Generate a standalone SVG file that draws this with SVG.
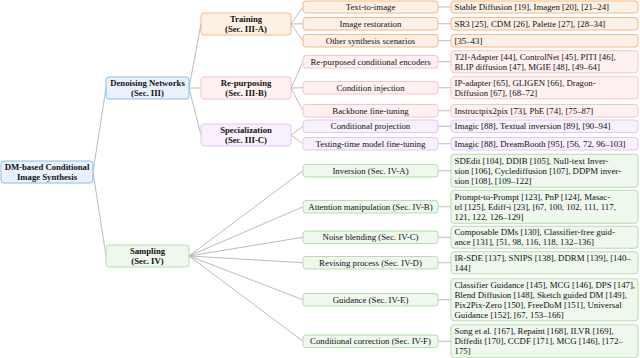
<svg xmlns="http://www.w3.org/2000/svg" width="640" height="358" viewBox="0 0 640 358">
<style>
text{font-family:"Liberation Serif","Times New Roman",serif;font-size:8.8px;fill:#111}
.b{font-weight:bold;font-size:8.7px}
.c{text-anchor:middle}
rect{stroke-width:1}
.blue{fill:#e9f2fc;stroke:#86bdf0}
.org{fill:#fdf0e4;stroke:#f3b98a}
.pnk{fill:#fff1f2;stroke:#f8c4ca}
.prp{fill:#f8f0fd;stroke:#e2c6f4}
.grn{fill:#eef8ec;stroke:#b3e0ad}
#connectors line{stroke:#a9a9a9;stroke-width:0.8}
</style>
<g id="connectors">
<line x1="93" y1="172" x2="106" y2="88"/>
<line x1="93" y1="172" x2="106" y2="256"/>
<line x1="189" y1="88" x2="201" y2="24"/>
<line x1="189" y1="88" x2="201" y2="88"/>
<line x1="189" y1="88" x2="201" y2="135"/>
<line x1="291" y1="24" x2="303" y2="7"/>
<line x1="291" y1="24" x2="303" y2="23.75"/>
<line x1="291" y1="24" x2="303" y2="40.75"/>
<line x1="291" y1="88" x2="303" y2="61.75"/>
<line x1="291" y1="88" x2="303" y2="87.75"/>
<line x1="291" y1="88" x2="303" y2="110.75"/>
<line x1="291" y1="135" x2="303" y2="126.25"/>
<line x1="291" y1="135" x2="303" y2="143.75"/>
<line x1="189" y1="256" x2="303" y2="170.75"/>
<line x1="189" y1="256" x2="303" y2="206.75"/>
<line x1="189" y1="256" x2="303" y2="237.25"/>
<line x1="189" y1="256" x2="303" y2="262.75"/>
<line x1="189" y1="256" x2="303" y2="299.75"/>
<line x1="189" y1="256" x2="303" y2="341.25"/>
<line x1="438" y1="7" x2="451" y2="7"/>
<line x1="438" y1="23.75" x2="451" y2="23.75"/>
<line x1="438" y1="40.75" x2="451" y2="40.75"/>
<line x1="438" y1="61.75" x2="451" y2="61.75"/>
<line x1="438" y1="87.75" x2="451" y2="87.75"/>
<line x1="438" y1="110.75" x2="451" y2="110.75"/>
<line x1="438" y1="126.25" x2="451" y2="126.25"/>
<line x1="438" y1="143.75" x2="451" y2="143.75"/>
<line x1="438" y1="170.75" x2="451" y2="170.75"/>
<line x1="438" y1="206.75" x2="451" y2="206.75"/>
<line x1="438" y1="237.25" x2="451" y2="237.25"/>
<line x1="438" y1="262.75" x2="451" y2="262.75"/>
<line x1="438" y1="299.75" x2="451" y2="299.75"/>
<line x1="438" y1="341.25" x2="451" y2="341.25"/>
</g>

<g id="root"><rect class="blue" x="1" y="161" width="92" height="22" rx="3"/>
<text class="b c" x="47" y="169.5">DM-based Conditional</text><text class="b c" x="47" y="179.5">Image Synthesis</text></g>

<g id="denoising"><rect class="blue" x="106" y="77" width="83" height="22" rx="3"/>
<text class="b c" x="147.5" y="85.5">Denoising Networks</text><text class="b c" x="147.5" y="95.5">(Sec. III)</text></g>
<g id="sampling"><rect class="grn" x="106" y="245" width="83" height="22" rx="3"/>
<text class="b c" x="147.5" y="253.5">Sampling</text><text class="b c" x="147.5" y="263.5">(Sec. IV)</text></g>

<g id="training"><rect class="org" x="201" y="13" width="90" height="22" rx="3"/>
<text class="b c" x="246" y="21.5">Training</text><text class="b c" x="246" y="31.5">(Sec. III-A)</text></g>
<g id="repurposing"><rect class="pnk" x="201" y="77" width="90" height="22" rx="3"/>
<text class="b c" x="246" y="85.5">Re-purposing</text><text class="b c" x="246" y="95.5">(Sec. III-B)</text></g>
<g id="specialization"><rect class="prp" x="201" y="124" width="90" height="22" rx="3"/>
<text class="b c" x="246" y="132.5">Specialization</text><text class="b c" x="246" y="142.5">(Sec. III-C)</text></g>

<g id="t2i"><rect class="org" x="303" y="1" width="135" height="12" rx="3"/><text class="c" x="370.5" y="10">Text-to-image</text></g>
<g id="restoration"><rect class="org" x="303" y="17.5" width="135" height="12.5" rx="3"/><text class="c" x="370.5" y="26.75">Image restoration</text></g>
<g id="other"><rect class="org" x="303" y="34.5" width="135" height="12.5" rx="3"/><text class="c" x="370.5" y="43.75">Other synthesis scenarios</text></g>
<g id="encoders"><rect class="pnk" x="303" y="55.5" width="135" height="12.5" rx="3"/><text class="c" x="370.5" y="64.75">Re-purposed conditional encoders</text></g>
<g id="injection"><rect class="pnk" x="303" y="81.5" width="135" height="12.5" rx="3"/><text class="c" x="370.5" y="90.75">Condition injection</text></g>
<g id="backbone"><rect class="pnk" x="303" y="104.5" width="135" height="12.5" rx="3"/><text class="c" x="370.5" y="113.75">Backbone fine-tuning</text></g>
<g id="projection"><rect class="prp" x="303" y="120" width="135" height="12.5" rx="3"/><text class="c" x="370.5" y="129.25">Conditional projection</text></g>
<g id="testing"><rect class="prp" x="303" y="137.5" width="135" height="12.5" rx="3"/><text class="c" x="370.5" y="146.75">Testing-time model fine-tuning</text></g>
<g id="inversion"><rect class="grn" x="303" y="164.5" width="135" height="12.5" rx="3"/><text class="c" x="370.5" y="173.75">Inversion (Sec. IV-A)</text></g>
<g id="attention"><rect class="grn" x="303" y="200.5" width="135" height="12.5" rx="3"/><text class="c" x="370.5" y="209.75">Attention manipulation (Sec. IV-B)</text></g>
<g id="noise"><rect class="grn" x="303" y="231" width="135" height="12.5" rx="3"/><text class="c" x="370.5" y="240.25">Noise blending (Sec. IV-C)</text></g>
<g id="revising"><rect class="grn" x="303" y="256.5" width="135" height="12.5" rx="3"/><text class="c" x="370.5" y="265.75">Revising process (Sec. IV-D)</text></g>
<g id="guidance"><rect class="grn" x="303" y="293.5" width="135" height="12.5" rx="3"/><text class="c" x="370.5" y="302.75">Guidance (Sec. IV-E)</text></g>
<g id="correction"><rect class="grn" x="303" y="335" width="135" height="12.5" rx="3"/><text class="c" x="370.5" y="344.25">Conditional correction (Sec. IV-F)</text></g>

<g id="r-t2i"><rect class="org" x="451" y="1" width="187" height="12" rx="3"/><text x="454.5" y="10">Stable Diffusion [19], Imagen [20], [21–24]</text></g>
<g id="r-restoration"><rect class="org" x="451" y="17.5" width="187" height="12.5" rx="3"/><text x="454.5" y="26.75">SR3 [25], CDM [26], Palette [27], [28–34]</text></g>
<g id="r-other"><rect class="org" x="451" y="34.5" width="187" height="12.5" rx="3"/><text x="454.5" y="43.75">[35–43]</text></g>
<g id="r-encoders"><rect class="pnk" x="451" y="50.75" width="187" height="22" rx="3"/><text x="454.5" y="59.75">T2I-Adapter [44], ControlNet [45], PITI [46],</text><text x="454.5" y="69.75">BLIP diffusion [47], MGIE [48], [49–64]</text></g>
<g id="r-injection"><rect class="pnk" x="451" y="76.75" width="187" height="22" rx="3"/><text x="454.5" y="85.75">IP-adapter [65], GLIGEN [66], Dragon-</text><text x="454.5" y="95.75">Diffusion [67], [68–72]</text></g>
<g id="r-backbone"><rect class="pnk" x="451" y="104.5" width="187" height="12.5" rx="3"/><text x="454.5" y="113.75">Instructpix2pix [73], PbE [74], [75–87]</text></g>
<g id="r-projection"><rect class="prp" x="451" y="120" width="187" height="12.5" rx="3"/><text x="454.5" y="129.25">Imagic [88], Textual inversion [89], [90–94]</text></g>
<g id="r-testing"><rect class="prp" x="451" y="137.5" width="187" height="12.5" rx="3"/><text x="454.5" y="146.75">Imagic [88], DreamBooth [95], [56, 72, 96–103]</text></g>
<g id="r-inversion"><rect class="grn" x="451" y="154.25" width="187" height="33" rx="3"/><text x="454.5" y="163.75">SDEdit [104], DDIB [105], Null-text Inver-</text><text x="454.5" y="173.75">sion [106], Cyclediffusion [107], DDPM inver-</text><text x="454.5" y="183.75">sion [108], [109–122]</text></g>
<g id="r-attention"><rect class="grn" x="451" y="190.25" width="187" height="33" rx="3"/><text x="454.5" y="199.75">Prompt-to-Prompt [123], PnP [124], Masac-</text><text x="454.5" y="209.75">trl [125], Ediff-i [23], [67, 100, 102, 111, 117,</text><text x="454.5" y="219.75">121, 122, 126–129]</text></g>
<g id="r-noise"><rect class="grn" x="451" y="226.25" width="187" height="22" rx="3"/><text x="454.5" y="235.25">Composable DMs [130], Classifier-free guid-</text><text x="454.5" y="245.25">ance [131], [51, 98, 116, 118, 132–136]</text></g>
<g id="r-revising"><rect class="grn" x="451" y="251.75" width="187" height="22" rx="3"/><text x="454.5" y="260.75">IR-SDE [137], SNIPS [138], DDRM [139], [140–</text><text x="454.5" y="270.75">144]</text></g>
<g id="r-guidance"><rect class="grn" x="451" y="278.75" width="187" height="42" rx="3"/><text x="454.5" y="287.75">Classifier Guidance [145], MCG [146], DPS [147],</text><text x="454.5" y="297.75">Blend Diffusion [148], Sketch guided DM [149],</text><text x="454.5" y="307.75">Pix2Pix-Zero [150], FreeDoM [151], Universal</text><text x="454.5" y="317.75">Guidance [152], [67, 153–166]</text></g>
<g id="r-correction"><rect class="grn" x="451" y="324.75" width="187" height="33" rx="3"/><text x="454.5" y="334.25">Song et al. [167], Repaint [168], ILVR [169],</text><text x="454.5" y="344.25">Diffedit [170], CCDF [171], MCG [146], [172–</text><text x="454.5" y="354.25">175]</text></g>
</svg>
